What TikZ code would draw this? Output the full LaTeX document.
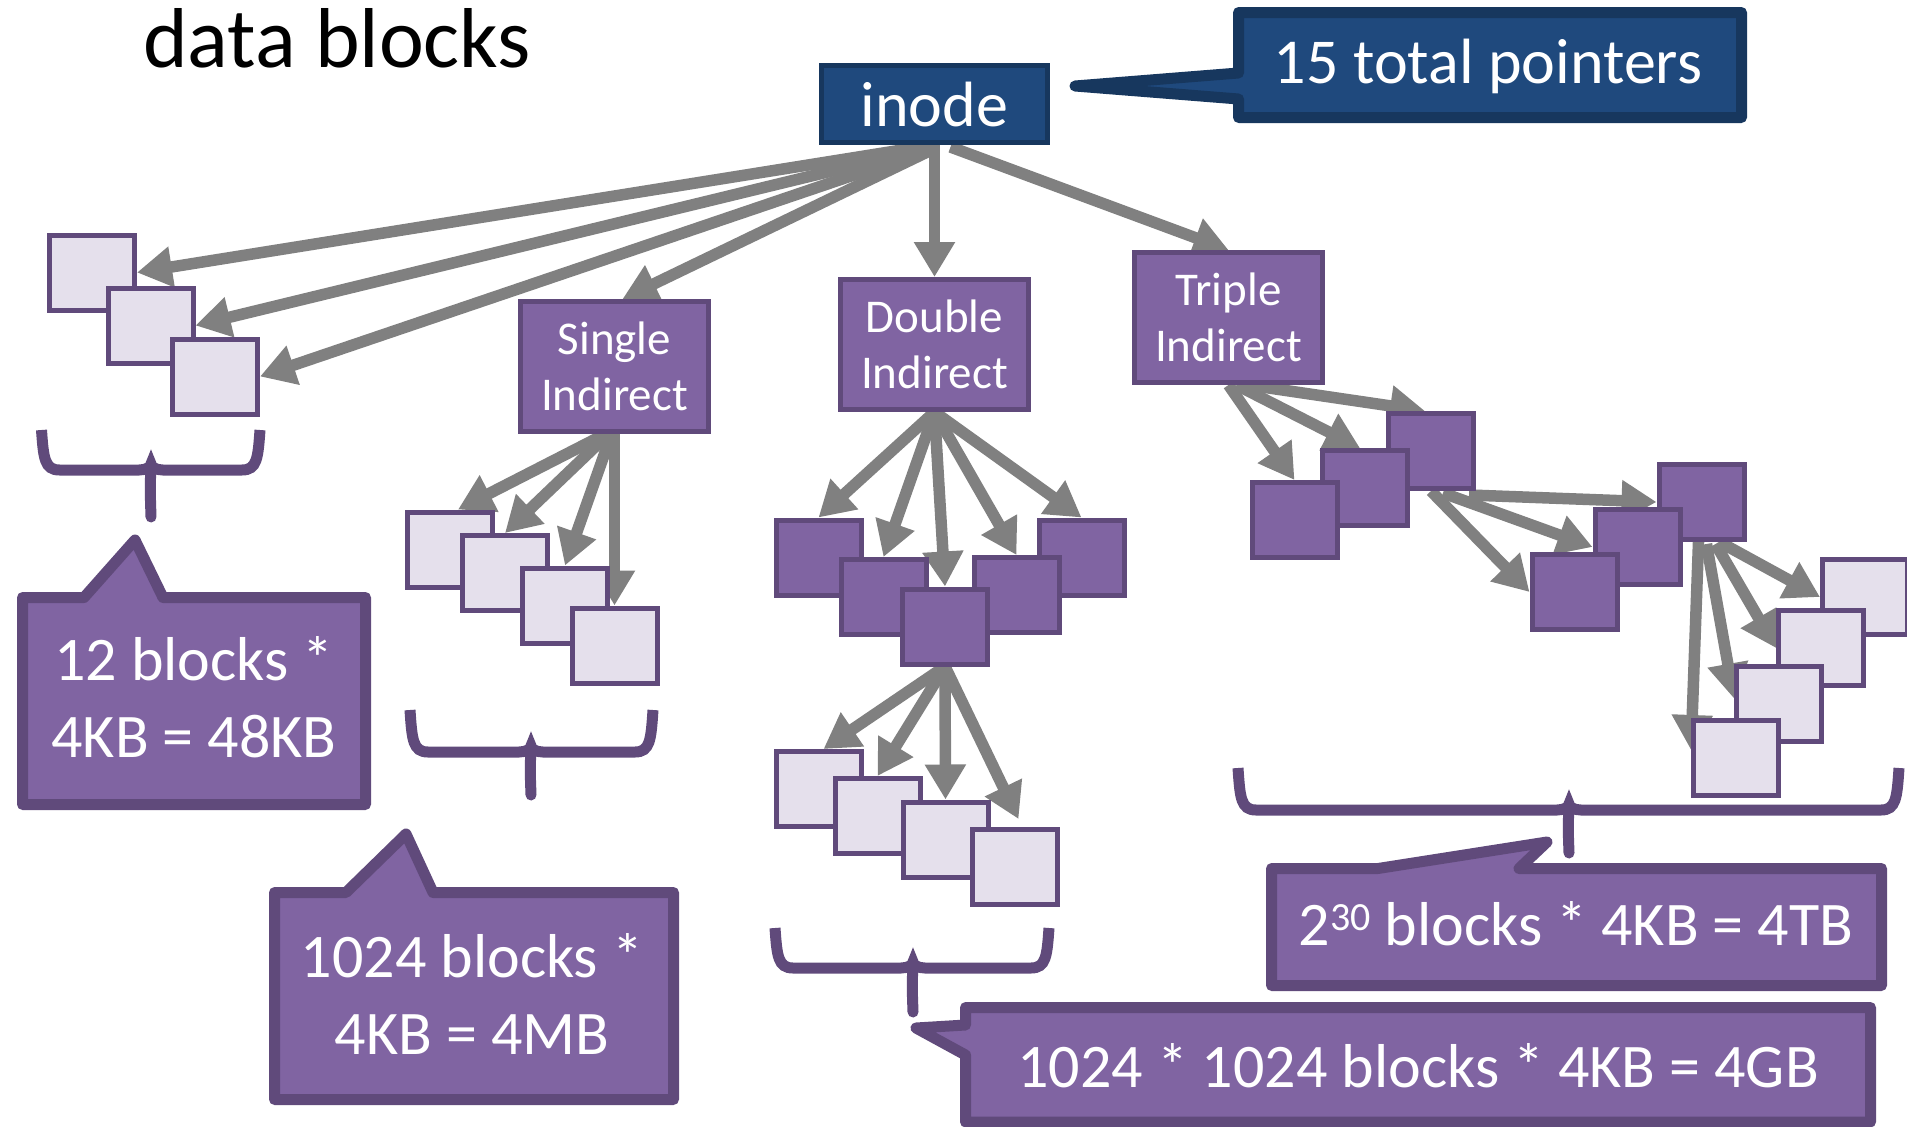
\documentclass[tikz,border=0pt]{standalone}
\usepackage{fontspec}
\setmainfont{Carlito}
\usetikzlibrary{arrows.meta,calc}

\definecolor{inodefill}{HTML}{1F497D}
\definecolor{inodeline}{HTML}{17375E}
\definecolor{ptrfill}{HTML}{8064A2}
\definecolor{ptrline}{HTML}{604A7B}
\definecolor{datafill}{HTML}{E5E0EC}
\definecolor{arrowgray}{HTML}{808080}

\pgfdeclarelayer{paper}
\pgfdeclarelayer{links}
\pgfsetlayers{paper,links,main}

% curly brace: left x, right x, top y, bar y, stem tip y, stem x
\newcommand{\curlybrace}[6]{%
  \draw[bracestyle] (#1,#3) .. controls (#1+2,#4-12) and (#1+3,#4) .. (#1+18,#4)
     -- (#6-12,#4) .. controls (#6-5,#4) and (#6,#4-3) .. (#6,#4-6)
     .. controls (#6,#4-3) and (#6+5,#4) .. (#6+12,#4)
     -- (#2-18,#4) .. controls (#2-3,#4) and (#2-2,#4-12) .. (#2,#3);
  \draw[bracestyle,line cap=round] (#6,#4) .. controls (#6-1,#4+15) .. (#6,#5);
}

\begin{document}
\begin{tikzpicture}[x=1pt,y=-1pt,
  sq/.style={draw=ptrline,line width=5pt,minimum width=85pt,minimum height=75pt,inner sep=0pt},
  datasq/.style={sq,fill=datafill},
  ptrsq/.style={sq,fill=ptrfill},
  lblbox/.style={draw=ptrline,fill=ptrfill,line width=5pt,minimum width=188pt,minimum height=130pt,
    inner sep=0pt,text=white,align=center,font=\fontsize{47}{56}\selectfont},
  inodebox/.style={draw=inodeline,fill=inodefill,line width=5pt,minimum width=226pt,minimum height=77pt,
    inner sep=0pt,text=white,font=\fontsize{64}{76}\selectfont},
  arr/.style={draw=arrowgray,line width=11.5pt,-{Triangle[length=35pt,width=39pt]}},
  bracestyle/.style={draw=ptrline,line width=11pt},
  pcallout/.style={draw=ptrline,fill=ptrfill,line width=11pt,line join=round},
  bcallout/.style={draw=inodeline,fill=inodefill,line width=11pt,line join=round},
  ctext/.style={text=white,align=center,inner sep=0pt,font=\fontsize{62}{77}\selectfont},
]
\useasboundingbox (0,0) rectangle (1907,1127);
\begin{pgfonlayer}{paper}
  \fill[white] (0,0) rectangle (1907,1127);
\end{pgfonlayer}

% heading
\node[anchor=base west,inner sep=0pt,font=\fontsize{85}{100}\selectfont] (title) at (143,67) {data blocks};

% inode and its note
\draw[bcallout] (1238.5,12.5) -- (1741.5,12.5) -- (1741.5,117.5) -- (1238.5,117.5)
  -- (1238.5,99) -- (1075,86) -- (1238.5,73) -- cycle;
\node[ctext,anchor=base,font=\fontsize{64}{76}\selectfont] (ptrs) at (1488,83) {15 total pointers};
\node[inodebox] (inode) at (934.5,104) {inode};

% indirect blocks
\node[lblbox] (single) at (614.5,366.5) {Single\\Indirect};
\node[lblbox] (double) at (934.5,344.5) {Double\\Indirect};
\node[lblbox] (triple) at (1228.5,317.5) {Triple\\Indirect};

% direct data blocks
\node[datasq] (A1) at (92,272.5) {};
\node[datasq] (A2) at (150.5,325.5) {};
\node[datasq] (A3) at (215,376.5) {};

% single indirect data blocks
\node[datasq] (B1) at (450,549.5) {};
\node[datasq] (B2) at (505,573) {};
\node[datasq] (B3) at (565,605.5) {};
\node[datasq] (B4) at (614.5,645.5) {};

% double indirect pointer blocks
\node[ptrsq] (C1) at (818.5,557.5) {};
\node[ptrsq] (C4) at (1081.5,557.5) {};
\node[ptrsq] (C2) at (883.5,597) {};
\node[ptrsq] (C3) at (1016.5,595) {};
\node[ptrsq] (C5) at (945,626.5) {};

% double indirect data blocks
\node[datasq] (D1) at (818.5,789) {};
\node[datasq] (D2) at (877.5,816) {};
\node[datasq] (D3) at (945.5,839.5) {};
\node[datasq] (D4) at (1014.5,867) {};

% triple indirect, first level
\node[ptrsq] (E3) at (1431,451) {};
\node[ptrsq] (E2) at (1365,488) {};
\node[ptrsq] (E1) at (1294.5,520) {};

% triple indirect, second level
\node[ptrsq] (F3) at (1701.5,502) {};
\node[ptrsq] (F2) at (1637.5,547) {};
\node[ptrsq] (F1) at (1574.5,592) {};

% triple indirect data blocks
\node[datasq] (G1) at (1865,597) {};
\node[datasq] (G2) at (1821,648) {};
\node[datasq] (G3) at (1779,703.5) {};
\node[datasq] (G4) at (1736,758) {};

% pointers, kept beneath the blocks
\begin{pgfonlayer}{links}
  \draw[arr] ($(inode.south)+(-14,2)$) -- (A1.east);
  \draw[arr] ($(inode.south)+(-8,3)$) -- (A2.east);
  \draw[arr] ($(inode.south)+(-4,4)$) -- (A3.east);
  \draw[arr] ($(inode.south)+(-1,4)$) -- ($(single.north)+(8,0)$);
  \draw[arr] (inode.south) -- (double.north);
  \draw[arr] ($(inode.south)+(16,2)$) -- (triple.north);

  \draw[arr] ($(single.south)+(-9,0)$) -- ($(B1.north)+(8,0)$);
  \draw[arr] ($(single.south)+(-6,0)$) -- (B2.north);
  \draw[arr] ($(single.south)+(-3,0)$) -- (B3.north);
  \draw[arr] (single.south) -- (B4.north);

  \draw[arr] (double.south) -- (C1.north);
  \draw[arr] (double.south) -- (C2.north);
  \draw[arr] (double.south) -- (C5.north);
  \draw[arr] (double.south) -- (C3.north);
  \draw[arr] (double.south) -- (C4.north);

  \draw[arr] (C5.south) -- ($(D1.north)+(5,0)$);
  \draw[arr] (C5.south) -- (D2.north);
  \draw[arr] (C5.south) -- (D3.north);
  \draw[arr] (C5.south) -- ($(D4.north)+(4,-8)$);

  \draw[arr] (triple.south) -- (E1.north);
  \draw[arr] ($(triple.south)+(8,0)$) -- ($(E2.north)+(-5,0)$);
  \draw[arr] ($(triple.south)+(20,0)$) -- ($(E3.north)+(-6,0)$);

  \draw[arr] (E3.south) -- (F1.west);
  \draw[arr] ($(E3.south)+(12,2)$) -- (F2.west);
  \draw[arr] ($(E3.south)+(38,4)$) -- (F3.west);

  \draw[arr] ($(F3.south)+(-3,0)$) -- ($(G4.west)+(0,-8)$);
  \draw[arr] ($(F3.south)+(5,2)$) -- ($(G3.west)+(0,-5)$);
  \draw[arr] ($(F3.south)+(14,2)$) -- (G2.west);
  \draw[arr] ($(F3.south)+(18,0)$) -- (G1.west);
\end{pgfonlayer}

% braces
\curlybrace{41.5}{260}{430}{470}{517}{151}
\curlybrace{410}{653}{710}{752}{795}{531}
\curlybrace{775}{1049}{928}{968}{1012}{913}
\curlybrace{1238}{1899}{768}{810}{853}{1569}

% size notes
\draw[pcallout] (22.5,597.5) -- (84,597.5) -- (135,540) -- (163,597.5) -- (365.5,597.5)
  -- (365.5,804.5) -- (22.5,804.5) -- cycle;
\node[ctext] (n12) at (194,697) {12 blocks *\\4KB = 48KB};

\draw[pcallout] (274.5,892.5) -- (346,892.5) -- (406,834) -- (433,892.5) -- (673.5,892.5)
  -- (673.5,1099.5) -- (274.5,1099.5) -- cycle;
\node[ctext] (n1024) at (472,994) {1024 blocks *\\4KB = 4MB};

\draw[pcallout] (965.5,1007.5) -- (1870.5,1007.5) -- (1870.5,1122) -- (965.5,1122)
  -- (965.5,1055) -- (916,1028) -- (965.5,1025) -- cycle;
\node[ctext,anchor=base] (nGB) at (1418,1087) {1024 * 1024 blocks * 4KB = 4GB};

\draw[pcallout] (1271.5,868.5) -- (1378,868.5) -- (1547,842) -- (1519,868.5) -- (1881.5,868.5)
  -- (1881.5,985.5) -- (1271.5,985.5) -- cycle;
\node[ctext,anchor=base] (nTB) at (1576,945) {2\raisebox{15pt}{\fontsize{40}{40}\selectfont 30} blocks * 4KB = 4TB};
\end{tikzpicture}
\end{document}
